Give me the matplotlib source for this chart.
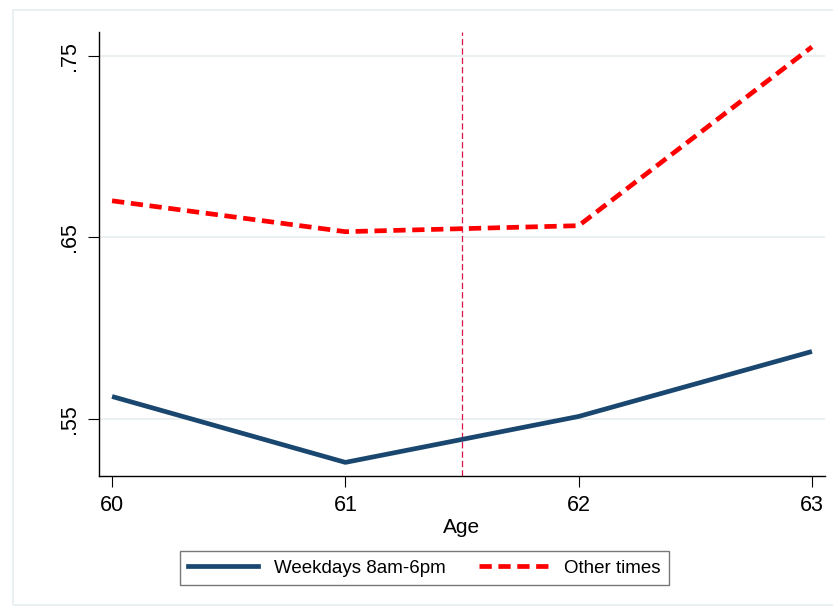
import matplotlib.pyplot as plt
from matplotlib.patches import Rectangle
from matplotlib.lines import Line2D

plt.rcParams['font.family'] = ['Liberation Sans', 'DejaVu Sans']

ages = [60, 61, 62, 63]
weekdays = [0.5624, 0.5261, 0.5514, 0.5872]
other_times = [0.6702, 0.6532, 0.6565, 0.7550]
cutoff = 61.5
yticks = [0.55, 0.65, 0.75]
ytick_labels = ['.55', '.65', '.75']

W, H = 833, 611
fig = plt.figure(figsize=(W / 100, H / 100), dpi=100, facecolor='white')

# light outer frame (Stata graph region)
fig.patches.append(Rectangle((13 / W, 1 - 605 / H), 1.0, (605 - 10) / H,
                             transform=fig.transFigure, fill=False,
                             edgecolor='#e6eef0', linewidth=1.2))

ax = fig.add_axes([99 / W, 1 - 476 / H, (825 - 99) / W, (476 - 32) / H])
ax.set_xlim(59.944, 63.056)
ax.set_ylim(0.5186, 0.7632)

for v in yticks:
    ax.axhline(v, color='#e8eff1', linewidth=1.3, zorder=0)

red_dash = (0, (2.6, 1.4))
ax.plot(ages, weekdays, color='#1a476f', linewidth=3.4,
        solid_capstyle='butt', label='Weekdays 8am-6pm', zorder=3)
ax.plot(ages, other_times, color='#ff0000', linewidth=3.4,
        linestyle=red_dash, label='Other times', zorder=3)
ax.axvline(cutoff, color='#d8144a', linewidth=0.9,
           linestyle=(0, (5, 2.5)), zorder=2)

ax.spines['top'].set_visible(False)
ax.spines['right'].set_visible(False)
for s in ('left', 'bottom'):
    ax.spines[s].set_linewidth(1.0)
    ax.spines[s].set_color('black')

ax.set_xticks(ages)
ax.set_xticklabels([str(a) for a in ages], fontsize=15.5)
ax.set_yticks(yticks)
ax.set_yticklabels(ytick_labels, fontsize=15.5, rotation=90, va='center')
ax.tick_params(axis='both', length=8, width=0.8, pad=6)
ax.set_xlabel('Age', fontsize=15, labelpad=1)

handles = [Line2D([], [], color='#1a476f', linewidth=3.4),
           Line2D([], [], color='#ff0000', linewidth=3.4, linestyle=red_dash)]
leg = fig.legend(handles, ['Weekdays 8am-6pm', 'Other times'],
                 loc='center', bbox_to_anchor=(424.5 / W, 1 - 568 / H),
                 ncol=2, fontsize=13.5, frameon=True, fancybox=False,
                 handlelength=3.7, handletextpad=0.85, columnspacing=1.8,
                 borderpad=0.45)
leg.get_frame().set_edgecolor('#555555')
leg.get_frame().set_linewidth(1.0)

fig.savefig('out.png', dpi=100, facecolor='white')
